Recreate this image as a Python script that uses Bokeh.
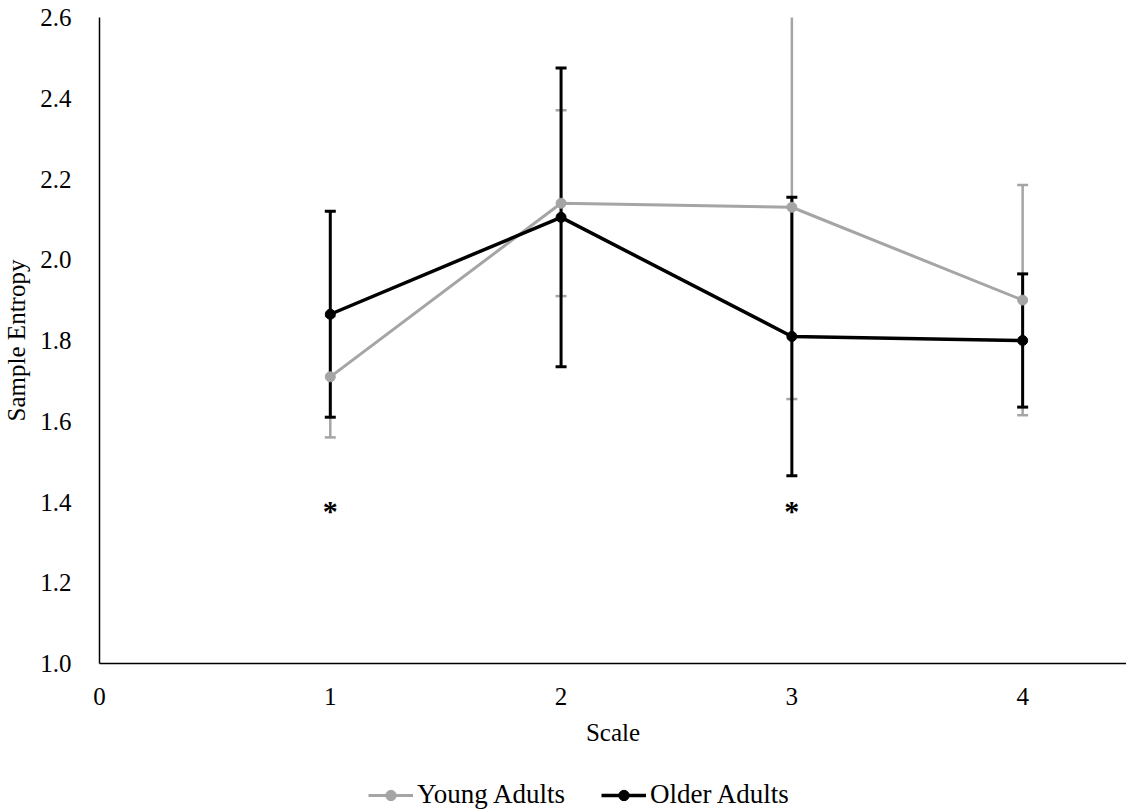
from bokeh.plotting import figure
from bokeh.layouts import column
from bokeh.models import (ColumnDataSource, Whisker, TeeHead, FixedTicker, Legend,
                          LegendItem, Range1d, NumeralTickFormatter)
from bokeh.core.properties import value
from bokeh.embed import file_html
from bokeh.resources import INLINE

# ---- data ----
scale = [1, 2, 3, 4]
young_mean = [1.71, 2.14, 2.13, 1.90]
young_err = [0.15, 0.23, 0.475, 0.285]
older_mean = [1.865, 2.105, 1.81, 1.80]
older_err = [0.255, 0.37, 0.345, 0.165]
star_x = [1, 3]
star_y = [1.38, 1.38]
x_ticks = [0, 1, 2, 3, 4]
y_ticks = [1.0, 1.2, 1.4, 1.6, 1.8, 2.0, 2.2, 2.4, 2.6]
series_names = ["Young Adults", "Older Adults"]

GRAY = "#A5A5A5"
BLACK = "#000000"
FONT = "Liberation Serif"

young_src = ColumnDataSource(dict(
    x=scale, y=young_mean,
    upper=[m + e for m, e in zip(young_mean, young_err)],
    lower=[m - e for m, e in zip(young_mean, young_err)]))
older_src = ColumnDataSource(dict(
    x=scale, y=older_mean,
    upper=[m + e for m, e in zip(older_mean, older_err)],
    lower=[m - e for m, e in zip(older_mean, older_err)]))

p = figure(width=1126, height=760, output_backend="svg", toolbar_location=None,
           x_range=Range1d(0, 4.45), y_range=Range1d(1.0, 2.6),
           min_border_left=97, min_border_right=0, min_border_top=17,
           min_border_bottom=97)
p.outline_line_color = None
p.xgrid.visible = False
p.ygrid.visible = False
p.background_fill_color = "white"
p.border_fill_color = "white"

# error bars
for src, col, lw in [(young_src, GRAY, 2.5), (older_src, BLACK, 3)]:
    w = Whisker(base="x", upper="upper", lower="lower", source=src,
                line_color=col, line_width=lw,
                upper_head=TeeHead(size=11, line_color=col, line_width=lw),
                lower_head=TeeHead(size=11, line_color=col, line_width=lw))
    p.add_layout(w)

ly = p.line("x", "y", source=young_src, line_color=GRAY, line_width=3)
sy = p.scatter("x", "y", source=young_src, size=10, fill_color=GRAY, line_color=GRAY)
lo = p.line("x", "y", source=older_src, line_color=BLACK, line_width=3.5)
so = p.scatter("x", "y", source=older_src, size=10, fill_color=BLACK, line_color=BLACK)

p.text(x=star_x, y=star_y, text=["*", "*"], text_font=value(FONT),
       text_font_size="30px", text_font_style="bold", text_align="center",
       text_baseline="alphabetic", text_color=BLACK)

# axes
for ax in (p.xaxis[0], p.yaxis[0]):
    ax.axis_line_color = BLACK
    ax.axis_line_width = 1.5
    ax.major_tick_line_color = None
    ax.minor_tick_line_color = None
    ax.major_label_text_font = FONT
    ax.major_label_text_font_size = "25px"
    ax.major_label_text_color = BLACK
    ax.axis_label_text_font = FONT
    ax.axis_label_text_font_size = "25px"
    ax.axis_label_text_font_style = "normal"
    ax.axis_label_text_color = BLACK

p.xaxis.ticker = FixedTicker(ticks=x_ticks)
p.yaxis.ticker = FixedTicker(ticks=y_ticks)
p.yaxis.formatter = NumeralTickFormatter(format="0.0")
p.xaxis.axis_label = "Scale"
p.yaxis.axis_label = "Sample Entropy"
p.xaxis.major_label_standoff = 18
p.yaxis.major_label_standoff = 22
p.xaxis.axis_label_standoff = 11
p.yaxis.axis_label_standoff = 7

# ---- legend strip below the chart (its frame is aligned with the chart frame) ----
lg = figure(width=1126, height=52, output_backend="svg", toolbar_location=None,
            x_range=Range1d(100, 101), y_range=Range1d(100, 101),
            x_axis_location=None, y_axis_location=None,
            min_border_left=0, min_border_right=0, min_border_top=0,
            min_border_bottom=0)
lg.outline_line_color = None
lg.xgrid.visible = False
lg.ygrid.visible = False
lg.border_fill_color = "white"
lg.background_fill_color = "white"

# renderers that only feed the legend (their data lie outside this strip's ranges)
gl_y = lg.line("x", "y", source=young_src, line_color=GRAY, line_width=3)
gs_y = lg.scatter("x", "y", source=young_src, size=10, fill_color=GRAY, line_color=GRAY)
gl_o = lg.line("x", "y", source=older_src, line_color=BLACK, line_width=3.5)
gs_o = lg.scatter("x", "y", source=older_src, size=10, fill_color=BLACK, line_color=BLACK)

legend = Legend(items=[LegendItem(label=series_names[0], renderers=[gl_y, gs_y], index=0),
                       LegendItem(label=series_names[1], renderers=[gl_o, gs_o], index=0)],
                location=(269, 2), orientation="horizontal",
                label_text_font=FONT, label_text_font_size="27px",
                label_text_color=BLACK, glyph_width=45, glyph_height=26,
                label_height=26, label_standoff=4, spacing=36, padding=0, margin=0,
                border_line_color=None, background_fill_alpha=0)
lg.add_layout(legend, "center")

layout = column(p, lg, spacing=0)
open("out.html", "w").write(file_html(layout, INLINE))
